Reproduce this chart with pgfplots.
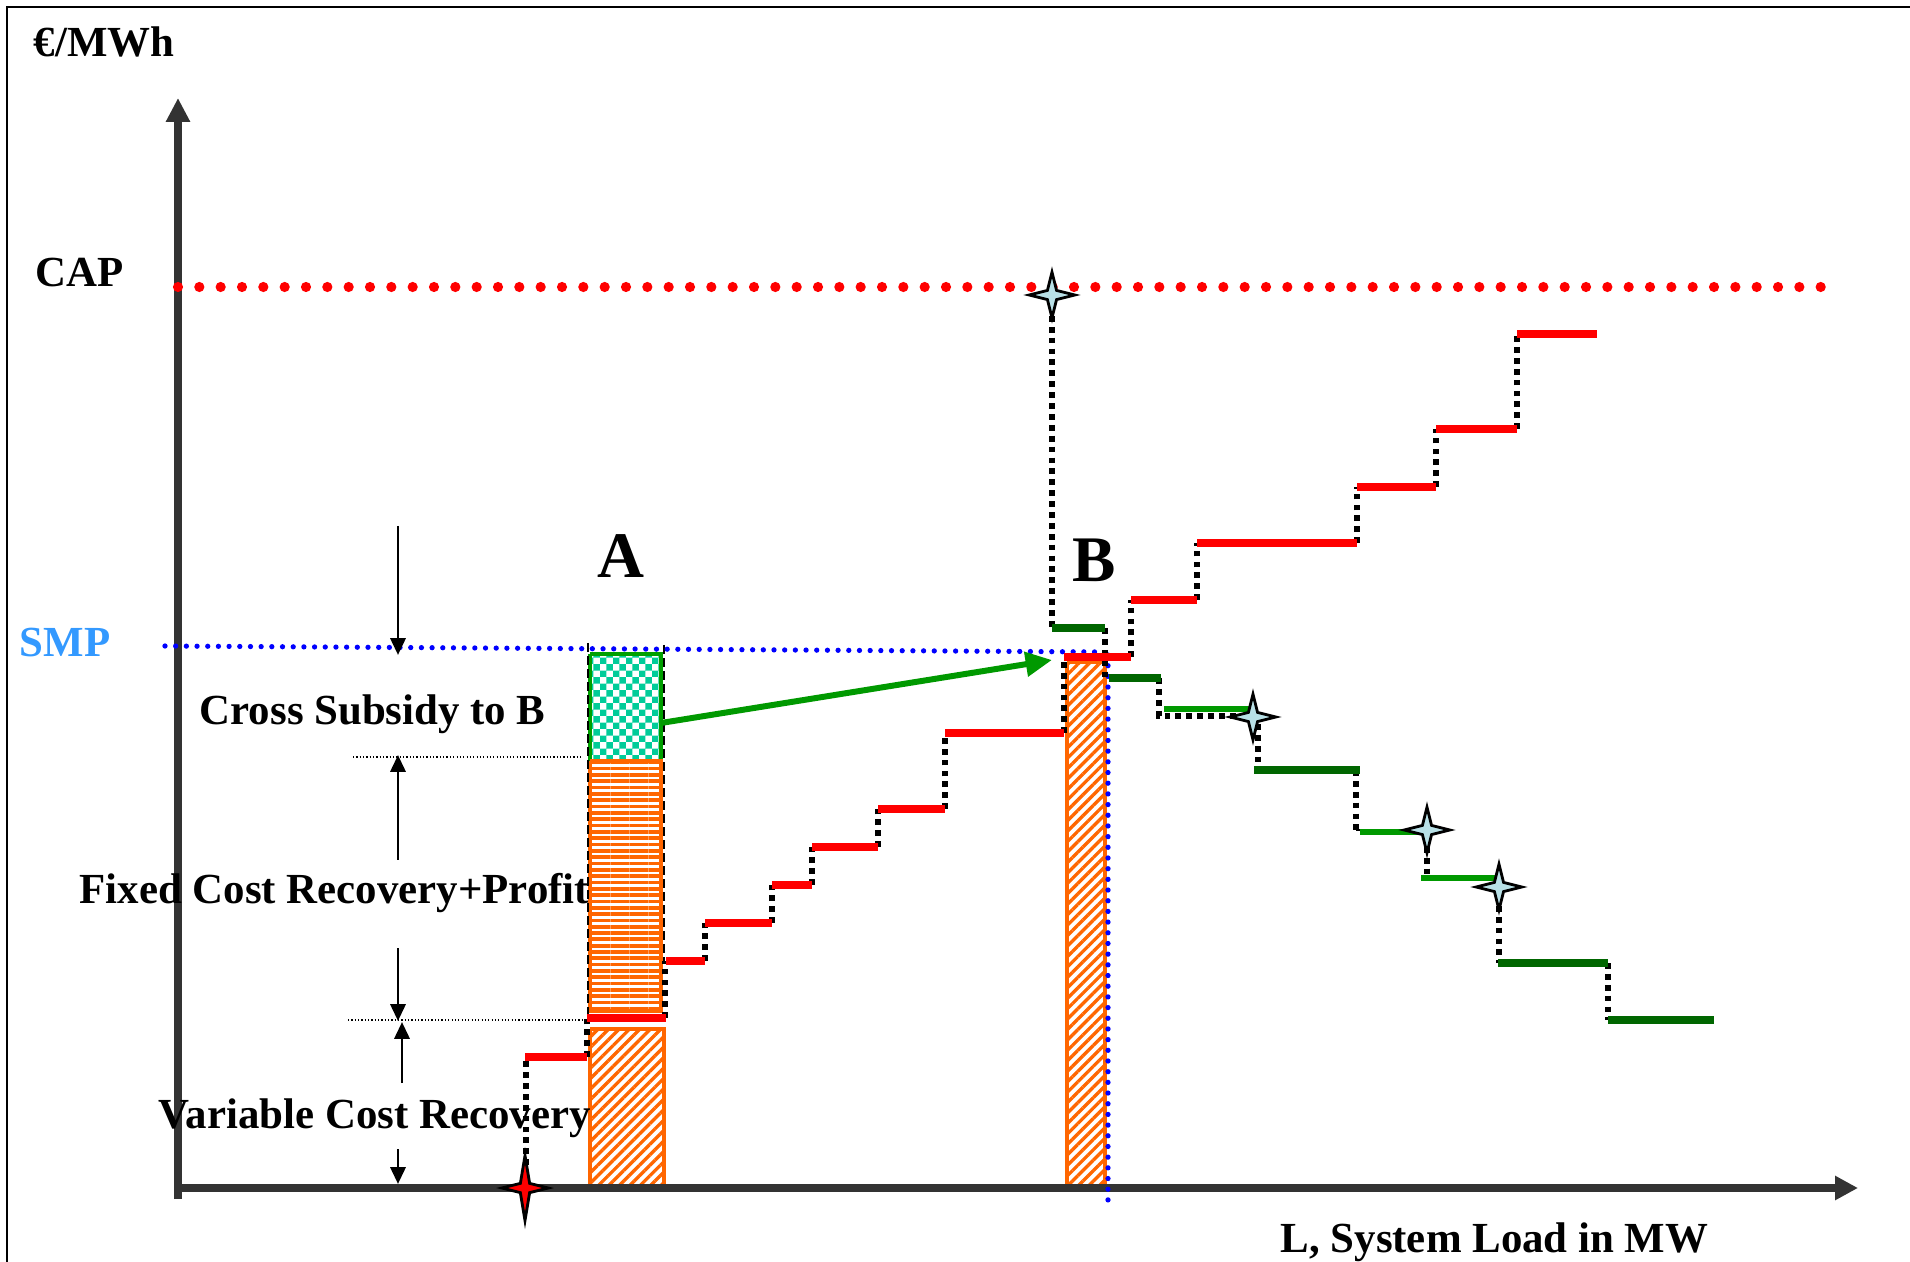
\documentclass[border=0pt]{standalone}
\usepackage{pgfplots}
\pgfplotsset{compat=1.18}
\usepackage{fontspec}
\setmainfont{Liberation Serif}
\usetikzlibrary{patterns,patterns.meta,arrows.meta}
\definecolor{axgray}{HTML}{333333}
\definecolor{dgreen}{HTML}{006600}
\definecolor{lgreen}{HTML}{009900}
\definecolor{agreen}{HTML}{009900}
\definecolor{bgreen}{HTML}{00A000}
\definecolor{teal2}{HTML}{00CC99}
\definecolor{orng}{HTML}{FF6600}
\definecolor{smpblue}{HTML}{3399FF}
\definecolor{starblue}{HTML}{B8E0E6}
\pgfdeclarepattern{
  name=smallchecker,
  type=uncolored,
  bottom left={\pgfpoint{0pt}{0pt}},
  top right={\pgfpoint{3.8pt}{3.8pt}},
  tile size={\pgfpoint{3.8pt}{3.8pt}},
  code={
    \pgfpathrectangle{\pgfpoint{0pt}{0pt}}{\pgfpoint{1.9pt}{1.9pt}}
    \pgfpathrectangle{\pgfpoint{1.9pt}{1.9pt}}{\pgfpoint{1.9pt}{1.9pt}}
    \pgfusepath{fill}
  }
}
\pgfdeclareplotmark{star4}{%
 \pgfpathmoveto{\pgfqpoint{0pt}{\pgfplotmarksize}}%
 \pgfpathlineto{\pgfqpoint{0.2\pgfplotmarksize}{0.2\pgfplotmarksize}}%
 \pgfpathlineto{\pgfqpoint{\pgfplotmarksize}{0pt}}%
 \pgfpathlineto{\pgfqpoint{0.2\pgfplotmarksize}{-0.2\pgfplotmarksize}}%
 \pgfpathlineto{\pgfqpoint{0pt}{-\pgfplotmarksize}}%
 \pgfpathlineto{\pgfqpoint{-0.2\pgfplotmarksize}{-0.2\pgfplotmarksize}}%
 \pgfpathlineto{\pgfqpoint{-\pgfplotmarksize}{0pt}}%
 \pgfpathlineto{\pgfqpoint{-0.2\pgfplotmarksize}{0.2\pgfplotmarksize}}%
 \pgfpathclose
 \pgfusepathqfillstroke}
\pgfdeclareplotmark{star4tall}{%
 \pgfpathmoveto{\pgfqpoint{0pt}{1.4\pgfplotmarksize}}%
 \pgfpathlineto{\pgfqpoint{0.2\pgfplotmarksize}{0.2\pgfplotmarksize}}%
 \pgfpathlineto{\pgfqpoint{\pgfplotmarksize}{0pt}}%
 \pgfpathlineto{\pgfqpoint{0.2\pgfplotmarksize}{-0.2\pgfplotmarksize}}%
 \pgfpathlineto{\pgfqpoint{0pt}{-1.4\pgfplotmarksize}}%
 \pgfpathlineto{\pgfqpoint{-0.2\pgfplotmarksize}{-0.2\pgfplotmarksize}}%
 \pgfpathlineto{\pgfqpoint{-\pgfplotmarksize}{0pt}}%
 \pgfpathlineto{\pgfqpoint{-0.2\pgfplotmarksize}{0.2\pgfplotmarksize}}%
 \pgfpathclose
 \pgfusepathqfillstroke}
\tikzset{
 redstep/.style={draw=red, line width=2.5pt},
 dgstep/.style={draw=dgreen, line width=2.3pt},
 lgstep/.style={draw=lgreen, line width=1.9pt},
 conn/.style={draw=black, line width=1.65pt, dash pattern=on 1.65pt off 1.45pt},
 ann/.style={draw=black, line width=0.85pt, -{Triangle[length=4.8pt,width=4.3pt]}},
 lbl/.style={anchor=base west, inner sep=0pt, font=\fontsize{12.2pt}{14pt}\selectfont\bfseries},
 big/.style={anchor=base west, inner sep=0pt, font=\fontsize{18.5pt}{20pt}\selectfont\bfseries},
 diag/.style={draw=orng, line width=0.9pt, pattern={Lines[angle=45,distance=2.1pt,line width=0.95pt]}, pattern color=orng},
}
\begin{document}
\begin{tikzpicture}
\begin{axis}[
  width=19.1cm, height=12.62cm, scale only axis,
  xmin=0, xmax=1910, ymin=0, ymax=1262, y dir=reverse,
  hide axis, clip=true,
  axis background/.style={fill=white},
]
% frame
\addplot[draw=black, line width=0.6pt] coordinates {(7,1262) (7,7) (1910,7)};
% bars
\addplot[draw=bgreen, line width=0.9pt, pattern=smallchecker, pattern color=teal2] coordinates {(590,654) (661,654) (661,761) (590,761) (590,654)};
\addplot[draw=orng, line width=0.9pt, pattern={Lines[angle=0,distance=1.8pt,line width=1.05pt]}, pattern color=orng] coordinates {(590,761) (661,761) (661,1011) (590,1011) (590,761)};
\addplot[diag] coordinates {(590,1029) (664,1029) (664,1188) (590,1188) (590,1029)};
\addplot[diag] coordinates {(1067,662) (1105,662) (1105,1188) (1067,1188) (1067,662)};
% thin dashed verticals at A
\addplot[draw=black, line width=0.6pt, dash pattern=on 2.5pt off 1.2pt] coordinates {(588,643) (588,1016)};
\addplot[draw=black, line width=0.6pt, dash pattern=on 2.5pt off 1.2pt] coordinates {(664,645) (664,961)};
% thin dotted guides
\addplot[draw=black, line width=0.4pt, dash pattern=on 0.35pt off 0.6pt] coordinates {(353,757) (583,757)};
\addplot[draw=black, line width=0.4pt, dash pattern=on 0.35pt off 0.6pt] coordinates {(348,1020) (585,1020)};
% axes
\addplot[draw=axgray, line width=2.3pt, -{Triangle[length=6.8pt,width=6.5pt]}] coordinates {(178,1199) (178,98)};
\addplot[draw=axgray, line width=2.3pt, -{Triangle[length=6.5pt,width=6.5pt]}] coordinates {(174,1188) (1858,1188)};
% SMP line
\addplot[draw=blue, line width=1.5pt, line cap=round, dash pattern=on 0pt off 3.04pt] coordinates {(165,646) (1105,652)};
\addplot[draw=blue, line width=1.5pt, line cap=round, dash pattern=on 0pt off 3.04pt] coordinates {(1108,655) (1108,1205)};
% CAP line
\addplot[draw=red, line width=2.9pt, line cap=round, dash pattern=on 0pt off 6.07pt] coordinates {(178,287) (1825,287)};
% supply connectors
\addplot[conn] coordinates {(526,1165) (526,1057)};
\addplot[conn] coordinates {(587,1057) (587,1018)};
\addplot[conn] coordinates {(665,1018) (665,961)};
\addplot[conn] coordinates {(705,961) (705,923)};
\addplot[conn] coordinates {(772,923) (772,885)};
\addplot[conn] coordinates {(812,885) (812,847)};
\addplot[conn] coordinates {(878,847) (878,809)};
\addplot[conn] coordinates {(945,809) (945,733)};
\addplot[conn] coordinates {(1064,733) (1064,657)};
\addplot[conn] coordinates {(1131,657) (1131,600)};
\addplot[conn] coordinates {(1197,600) (1197,543)};
\addplot[conn] coordinates {(1357,543) (1357,487)};
\addplot[conn] coordinates {(1436,487) (1436,429)};
\addplot[conn] coordinates {(1517,429) (1517,334)};
% green connectors
\addplot[conn] coordinates {(1052,305) (1052,628)};
\addplot[conn] coordinates {(1105,628) (1105,680)};
\addplot[conn] coordinates {(1159,678) (1159,716) (1240,716)};
\addplot[conn] coordinates {(1258,724) (1258,770)};
\addplot[conn] coordinates {(1356,770) (1356,830)};
\addplot[draw=black, line width=0.6pt, dash pattern=on 2pt off 1pt] coordinates {(1356,830) (1427,830)};
\addplot[conn] coordinates {(1427,836) (1427,878)};
\addplot[conn] coordinates {(1499,895) (1499,963)};
\addplot[conn] coordinates {(1608,963) (1608,1020)};
% red supply steps
\addplot[redstep] coordinates {(525,1057) (587,1057)};
\addplot[redstep] coordinates {(587,1018) (666,1018)};
\addplot[redstep] coordinates {(666,961) (705,961)};
\addplot[redstep] coordinates {(705,923) (772,923)};
\addplot[redstep] coordinates {(772,885) (812,885)};
\addplot[redstep] coordinates {(812,847) (878,847)};
\addplot[redstep] coordinates {(878,809) (945,809)};
\addplot[redstep] coordinates {(945,733) (1064,733)};
\addplot[redstep] coordinates {(1064,657) (1131,657)};
\addplot[redstep] coordinates {(1131,600) (1197,600)};
\addplot[redstep] coordinates {(1197,543) (1357,543)};
\addplot[redstep] coordinates {(1357,487) (1436,487)};
\addplot[redstep] coordinates {(1436,429) (1517,429)};
\addplot[redstep] coordinates {(1517,334) (1597,334)};
% green steps
\addplot[dgstep] coordinates {(1052,628) (1105,628)};
\addplot[dgstep] coordinates {(1109,678) (1161,678)};
\addplot[lgstep] coordinates {(1164,709) (1255,709)};
\addplot[dgstep] coordinates {(1254,770) (1360,770)};
\addplot[lgstep] coordinates {(1360,832) (1421,832)};
\addplot[lgstep] coordinates {(1421,878) (1498,878)};
\addplot[dgstep] coordinates {(1498,963) (1608,963)};
\addplot[dgstep] coordinates {(1608,1020) (1714,1020)};
% green arrow
\addplot[draw=agreen, line width=1.7pt, -{Triangle[length=7.5pt,width=6.8pt]}] coordinates {(661,723) (1052,660)};
% stars
\addplot[only marks, mark=star4, mark size=6.5pt, mark options={solid, fill=starblue, draw=black, line width=0.8pt}] coordinates {(1052,295) (1253,717) (1427,830) (1499,887)};
\addplot[only marks, mark=star4tall, mark size=6.6pt, mark options={solid, fill=red, draw=black, line width=0.8pt}] coordinates {(525,1188)};
% annotation arrows
\addplot[ann] coordinates {(398,526) (398,655)};
\addplot[ann] coordinates {(398,860) (398,755)};
\addplot[ann] coordinates {(398,948) (398,1021)};
\addplot[ann] coordinates {(402,1083) (402,1022)};
\addplot[ann] coordinates {(398,1149) (398,1184)};
% labels
\node[lbl] at (axis cs:33,57) {€/MWh};
\node[lbl] at (axis cs:35,287) {CAP};
\node[lbl, text=smpblue] at (axis cs:19,657) {SMP};
\node[big] at (axis cs:597,578) {A};
\node[big] at (axis cs:1072,582) {B};
\node[lbl] at (axis cs:199,725) {Cross Subsidy to B};
\node[lbl] at (axis cs:79,904) {Fixed Cost Recovery+Profit};
\node[lbl] at (axis cs:158,1128) {Variable Cost Recovery};
\node[lbl] at (axis cs:1280,1252) {L, System Load in MW};
\end{axis}
\end{tikzpicture}
\end{document}
